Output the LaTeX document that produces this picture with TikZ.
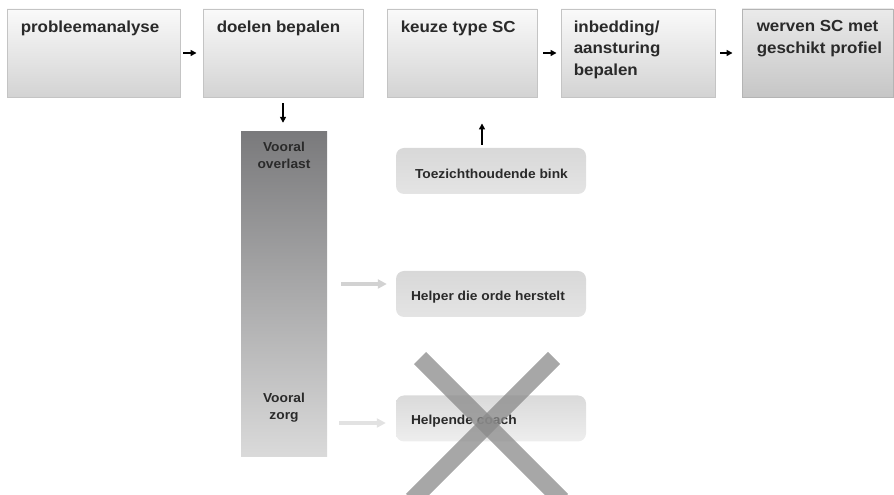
\documentclass[tikz,border=0pt]{standalone}
\usepackage{fontspec}
\setmainfont{Liberation Sans}[FakeStretch=1.06]
\usetikzlibrary{arrows.meta,calc}
\definecolor{txt}{HTML}{2A2A2A}
\definecolor{boxline}{HTML}{C4C4C4}
\definecolor{boxtop}{HTML}{FAFAFA}
\definecolor{boxbot}{HTML}{D3D3D3}
\definecolor{darktop}{HTML}{EAEAEA}
\definecolor{darkbot}{HTML}{C6C6C6}
\definecolor{darkline}{HTML}{B4B4B4}
\definecolor{bartop}{HTML}{7A7A7C}
\definecolor{barbot}{HTML}{DADADA}
\definecolor{subtop}{HTML}{D8D8D8}
\definecolor{subbot}{HTML}{E4E4E4}
\definecolor{subtopb}{HTML}{DADADA}
\definecolor{subbotb}{HTML}{EEEEEE}
\definecolor{lightarrow}{HTML}{D2D2D2}
\definecolor{lightarrowb}{HTML}{E2E2E2}
\definecolor{crossgray}{HTML}{8A8A8A}
\tikzset{
  topbox/.style={draw=boxline, line width=0.9pt, top color=boxtop, bottom color=boxbot, minimum height=88, inner sep=0pt},
  darkbox/.style={draw=darkline, line width=0.9pt, top color=darktop, bottom color=darkbot, minimum height=88, inner sep=0pt},
  toptext/.style={anchor=north west, inner sep=0pt, align=left, text=txt, font=\fontsize{16}{21.5}\selectfont\bfseries},
  subbox/.style={rounded corners=8pt, top color=subtop, bottom color=subbot, minimum width=190, minimum height=46, inner sep=0pt},
  subtext/.style={anchor=west, inner sep=0pt, text=txt, font=\fontsize{13}{16}\selectfont\bfseries},
  bartext/.style={anchor=north, inner sep=0pt, align=center, text=txt, font=\fontsize{13}{17}\selectfont\bfseries},
  blk/.style={line width=1.6pt, -{Triangle[length=6pt,width=6pt]}},
  lightarr/.style={line width=4.5pt, -{Triangle[length=9pt,width=9pt]}},
  crossline/.style={line width=17pt, crossgray, opacity=0.75}
}
\begin{document}
\begin{tikzpicture}[x=1pt,y=1pt]
\useasboundingbox (0,0) rectangle (894,495);
% top row
\node[topbox, minimum width=173] (b1) at (93.5,442) {};
\node[topbox, minimum width=160] (b2) at (283,442) {};
\node[topbox, minimum width=150] (b3) at (462,442) {};
\node[topbox, minimum width=154] (b4) at (638,442) {};
\node[darkbox, minimum width=151] (b5) at (817.5,442) {};
\node[toptext] (t1) at ($(b1.north west)+(14,-12)$) {probleemanalyse};
\node[toptext] (t2) at ($(b2.north west)+(14,-12)$) {doelen bepalen};
\node[toptext] (t3) at ($(b3.north west)+(14,-12)$) {keuze type SC};
\node[toptext] (t4) at ($(b4.north west)+(13,-12)$) {inbedding/\\aansturing\\bepalen};
\node[toptext] (t5) at ($(b5.north west)+(15,-12)$) {werven SC met\\geschikt profiel};
\draw[blk, shorten <=3pt, shorten >=6pt] (b1) -- (b2);
\draw[blk, shorten <=6pt, shorten >=4pt] (b3) -- (b4);
\draw[blk, shorten <=5pt, shorten >=9pt] (b4) -- (b5);
% bar
\node[top color=bartop, bottom color=barbot, minimum width=86, minimum height=325, inner sep=0pt] (bar) at (284,200.5) {};
\node[bartext] (bt1) at (284,353) {Vooral\\overlast};
\node[bartext] (bt2) at (284,102) {Vooral\\zorg};
\draw[blk, shorten <=6pt, shorten >=9pt] (b2.south) -- (b2.south |- bar.north);
% sub boxes
\node[subbox] (s1) at (491,324) {};
\node[subbox] (s2) at (491,201) {};
\node[subbox, top color=subtopb, bottom color=subbotb] (s3) at (491,76.5) {};
\node[subtext] (st1) at ($(s1.west)+(19,-3)$) {Toezichthoudende bink};
\node[subtext] (st2) at ($(s2.west)+(15,-3)$) {Helper die orde herstelt};
\node[subtext] (st3) at ($(s3.west)+(15,-3)$) {Helpende coach};
\coordinate (ux) at (482,0);
\draw[blk, shorten <=3pt, shorten >=26pt] (s1.north -| ux) -- (b3.south -| ux);
\coordinate (a1) at (0,211);
\coordinate (a2) at (0,72);
\draw[lightarr, lightarrow, shorten <=14pt, shorten >=9pt] (bar.east |- a1) -- (s2.west |- a1);
\draw[lightarr, lightarrowb, shorten <=12pt, shorten >=10pt] (bar.east |- a2) -- (s3.west |- a2);
% cross
\coordinate (x1) at (420,137);
\coordinate (x2) at (562,-5);
\coordinate (x3) at (554,137);
\coordinate (x4) at (412,-5);
\draw[crossline] (x1) -- (x2);
\draw[crossline] (x3) -- (x4);
\end{tikzpicture}
\end{document}
